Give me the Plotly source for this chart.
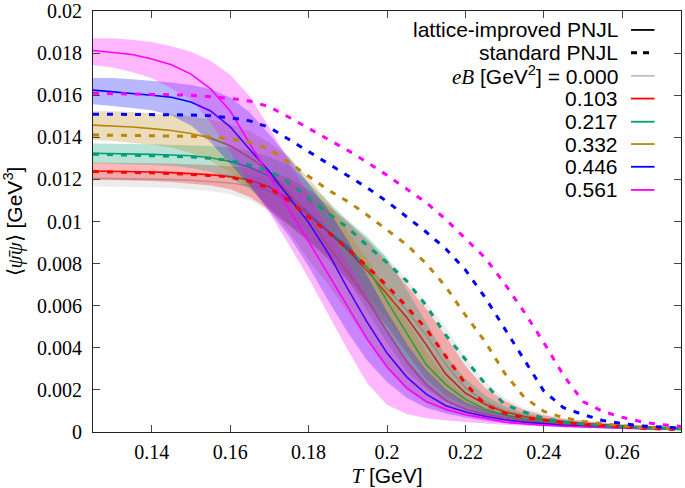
import plotly.graph_objects as go

# ---------------- data ----------------
T = [0.125, 0.130, 0.135, 0.140, 0.145, 0.150, 0.155, 0.160, 0.165, 0.170,
     0.175, 0.180, 0.185, 0.190, 0.195, 0.200, 0.205, 0.210, 0.215, 0.220,
     0.225, 0.230, 0.235, 0.240, 0.245, 0.250, 0.255, 0.260, 0.265, 0.270, 0.275]

eB_labels = ["0.000", "0.103", "0.217", "0.332", "0.446", "0.561"]

# lattice-improved PNJL (solid) with error band
lat_000 = [0.01205, 0.01204, 0.01203, 0.01201, 0.01199, 0.01196, 0.01191, 0.01183, 0.01170, 0.01145, 0.01095, 0.01030, 0.00955, 0.00875, 0.00785, 0.00685, 0.00580, 0.00460, 0.00320, 0.00210, 0.00145, 0.00102, 0.00079, 0.00062, 0.00051, 0.00042, 0.00036, 0.00030, 0.00025, 0.00022, 0.00019]
hi_000 = [0.01241, 0.01241, 0.01240, 0.01239, 0.01237, 0.01235, 0.01233, 0.01228, 0.01221, 0.01208, 0.01185, 0.01138, 0.01074, 0.00999, 0.00918, 0.00827, 0.00726, 0.00619, 0.00499, 0.00358, 0.00239, 0.00163, 0.00114, 0.00087, 0.00067, 0.00055, 0.00045, 0.00038, 0.00032, 0.00027, 0.00024]
lo_000 = [0.01168, 0.01167, 0.01165, 0.01162, 0.01159, 0.01153, 0.01145, 0.01130, 0.01101, 0.01050, 0.00985, 0.00911, 0.00831, 0.00742, 0.00644, 0.00539, 0.00419, 0.00289, 0.00191, 0.00132, 0.00094, 0.00074, 0.00058, 0.00048, 0.00040, 0.00034, 0.00028, 0.00023, 0.00020, 0.00018, 0.00018]

lat_103 = [0.01240, 0.01239, 0.01237, 0.01235, 0.01232, 0.01228, 0.01222, 0.01213, 0.01197, 0.01165, 0.01105, 0.01030, 0.00950, 0.00865, 0.00765, 0.00655, 0.00545, 0.00415, 0.00275, 0.00185, 0.00132, 0.00095, 0.00074, 0.00058, 0.00048, 0.00040, 0.00034, 0.00028, 0.00024, 0.00021, 0.00018]
hi_103 = [0.01280, 0.01280, 0.01279, 0.01277, 0.01275, 0.01272, 0.01268, 0.01262, 0.01254, 0.01238, 0.01208, 0.01153, 0.01078, 0.00997, 0.00910, 0.00810, 0.00699, 0.00585, 0.00455, 0.00313, 0.00209, 0.00148, 0.00105, 0.00080, 0.00063, 0.00052, 0.00043, 0.00036, 0.00030, 0.00026, 0.00023]
lo_103 = [0.01199, 0.01197, 0.01195, 0.01192, 0.01188, 0.01181, 0.01171, 0.01153, 0.01116, 0.01055, 0.00982, 0.00903, 0.00818, 0.00719, 0.00613, 0.00502, 0.00375, 0.00249, 0.00168, 0.00121, 0.00088, 0.00069, 0.00054, 0.00045, 0.00038, 0.00032, 0.00026, 0.00022, 0.00019, 0.00017, 0.00017]

lat_217 = [0.01324, 0.01323, 0.01321, 0.01319, 0.01316, 0.01312, 0.01303, 0.01285, 0.01258, 0.01215, 0.01125, 0.01040, 0.00955, 0.00880, 0.00780, 0.00622, 0.00470, 0.00320, 0.00225, 0.00155, 0.00108, 0.00082, 0.00065, 0.00052, 0.00042, 0.00035, 0.00029, 0.00025, 0.00021, 0.00018, 0.00016]
hi_217 = [0.01370, 0.01370, 0.01369, 0.01367, 0.01365, 0.01363, 0.01359, 0.01351, 0.01334, 0.01307, 0.01267, 0.01183, 0.01094, 0.01006, 0.00926, 0.00828, 0.00677, 0.00518, 0.00362, 0.00253, 0.00175, 0.00121, 0.00090, 0.00070, 0.00057, 0.00046, 0.00037, 0.00031, 0.00027, 0.00023, 0.00020]
lo_217 = [0.01277, 0.01275, 0.01272, 0.01269, 0.01264, 0.01254, 0.01235, 0.01205, 0.01155, 0.01069, 0.00987, 0.00907, 0.00830, 0.00722, 0.00571, 0.00425, 0.00290, 0.00204, 0.00141, 0.00099, 0.00076, 0.00060, 0.00048, 0.00040, 0.00033, 0.00027, 0.00023, 0.00019, 0.00017, 0.00015, 0.00015]

lat_332 = [0.01458, 0.01454, 0.01449, 0.01441, 0.01432, 0.01418, 0.01396, 0.01360, 0.01304, 0.01237, 0.01135, 0.01025, 0.00880, 0.00760, 0.00625, 0.00478, 0.00335, 0.00225, 0.00150, 0.00108, 0.00085, 0.00068, 0.00055, 0.00044, 0.00036, 0.00030, 0.00026, 0.00022, 0.00019, 0.00017, 0.00015]
hi_332 = [0.01524, 0.01524, 0.01520, 0.01515, 0.01508, 0.01499, 0.01485, 0.01463, 0.01429, 0.01374, 0.01306, 0.01207, 0.01094, 0.00950, 0.00819, 0.00681, 0.00530, 0.00380, 0.00258, 0.00172, 0.00121, 0.00094, 0.00074, 0.00061, 0.00048, 0.00040, 0.00032, 0.00028, 0.00024, 0.00021, 0.00018]
lo_332 = [0.01388, 0.01382, 0.01374, 0.01365, 0.01350, 0.01326, 0.01288, 0.01233, 0.01162, 0.01063, 0.00951, 0.00817, 0.00700, 0.00569, 0.00429, 0.00299, 0.00201, 0.00136, 0.00098, 0.00078, 0.00062, 0.00051, 0.00040, 0.00033, 0.00028, 0.00024, 0.00020, 0.00018, 0.00016, 0.00014, 0.00014]

lat_446 = [0.01624, 0.01617, 0.01609, 0.01600, 0.01590, 0.01568, 0.01525, 0.01450, 0.01342, 0.01237, 0.01115, 0.00995, 0.00850, 0.00680, 0.00520, 0.00375, 0.00262, 0.00180, 0.00125, 0.00095, 0.00075, 0.00058, 0.00047, 0.00038, 0.00032, 0.00027, 0.00023, 0.00020, 0.00018, 0.00016, 0.00014]
hi_446 = [0.01682, 0.01682, 0.01676, 0.01669, 0.01660, 0.01649, 0.01629, 0.01589, 0.01518, 0.01413, 0.01303, 0.01180, 0.01056, 0.00911, 0.00740, 0.00572, 0.00419, 0.00295, 0.00203, 0.00141, 0.00105, 0.00082, 0.00063, 0.00051, 0.00041, 0.00034, 0.00029, 0.00025, 0.00022, 0.00019, 0.00017]
lo_446 = [0.01557, 0.01549, 0.01540, 0.01529, 0.01503, 0.01456, 0.01377, 0.01273, 0.01169, 0.01052, 0.00931, 0.00787, 0.00625, 0.00473, 0.00339, 0.00237, 0.00163, 0.00115, 0.00088, 0.00069, 0.00054, 0.00043, 0.00036, 0.00030, 0.00025, 0.00021, 0.00019, 0.00017, 0.00015, 0.00013, 0.00013]

lat_561 = [0.01812, 0.01804, 0.01793, 0.01772, 0.01745, 0.01700, 0.01630, 0.01525, 0.01370, 0.01215, 0.01060, 0.00905, 0.00750, 0.00594, 0.00440, 0.00310, 0.00210, 0.00145, 0.00108, 0.00082, 0.00066, 0.00046, 0.00038, 0.00032, 0.00027, 0.00023, 0.00020, 0.00018, 0.00016, 0.00014, 0.00013]
hi_561 = [0.01870, 0.01870, 0.01863, 0.01853, 0.01833, 0.01806, 0.01764, 0.01697, 0.01595, 0.01446, 0.01286, 0.01126, 0.00966, 0.00806, 0.00645, 0.00486, 0.00347, 0.00237, 0.00163, 0.00119, 0.00090, 0.00071, 0.00052, 0.00041, 0.00034, 0.00029, 0.00025, 0.00021, 0.00019, 0.00017, 0.00015]
lo_561 = [0.01744, 0.01732, 0.01710, 0.01680, 0.01632, 0.01580, 0.01470, 0.01330, 0.01180, 0.01040, 0.00890, 0.00730, 0.00560, 0.00390, 0.00230, 0.00130, 0.00085, 0.00065, 0.00055, 0.00047, 0.00040, 0.00034, 0.00030, 0.00025, 0.00022, 0.00019, 0.00017, 0.00015, 0.00013, 0.00012, 0.00012]

# standard PNJL (dashed)
std_103 = [0.01237, 0.01236, 0.01234, 0.01231, 0.01228, 0.01224, 0.01219, 0.01211, 0.01190, 0.01158, 0.01098, 0.01020, 0.00950, 0.00870, 0.00785, 0.00695, 0.00596, 0.00490, 0.00360, 0.00230, 0.00130, 0.00090, 0.00068, 0.00055, 0.00045, 0.00036, 0.00029, 0.00023, 0.00018, 0.00014, 0.00011]
std_217 = [0.01320, 0.01318, 0.01316, 0.01314, 0.01311, 0.01307, 0.01300, 0.01290, 0.01268, 0.01240, 0.01185, 0.01110, 0.01040, 0.00970, 0.00885, 0.00805, 0.00718, 0.00600, 0.00460, 0.00345, 0.00230, 0.00130, 0.00095, 0.00065, 0.00048, 0.00037, 0.00030, 0.00025, 0.00020, 0.00017, 0.00014]
std_332 = [0.01411, 0.01410, 0.01409, 0.01408, 0.01407, 0.01405, 0.01401, 0.01393, 0.01375, 0.01345, 0.01280, 0.01215, 0.01150, 0.01095, 0.01030, 0.00960, 0.00890, 0.00800, 0.00690, 0.00555, 0.00430, 0.00280, 0.00165, 0.00098, 0.00068, 0.00050, 0.00038, 0.00029, 0.00023, 0.00019, 0.00016]
std_446 = [0.01510, 0.01510, 0.01509, 0.01508, 0.01507, 0.01506, 0.01502, 0.01493, 0.01478, 0.01447, 0.01390, 0.01330, 0.01275, 0.01220, 0.01160, 0.01095, 0.01023, 0.00950, 0.00870, 0.00770, 0.00640, 0.00490, 0.00340, 0.00195, 0.00115, 0.00083, 0.00055, 0.00040, 0.00029, 0.00023, 0.00019]
std_561 = [0.01609, 0.01608, 0.01606, 0.01604, 0.01602, 0.01600, 0.01594, 0.01585, 0.01572, 0.01545, 0.01495, 0.01442, 0.01392, 0.01338, 0.01280, 0.01220, 0.01155, 0.01090, 0.01010, 0.00920, 0.00828, 0.00705, 0.00570, 0.00425, 0.00270, 0.00145, 0.00098, 0.00070, 0.00048, 0.00035, 0.00026]

x_tickvals = [0.14, 0.16, 0.18, 0.20, 0.22, 0.24, 0.26]
x_ticktext = ["0.14", "0.16", "0.18", "0.2", "0.22", "0.24", "0.26"]
y_tickvals = [0, 0.002, 0.004, 0.006, 0.008, 0.01, 0.012, 0.014, 0.016, 0.018, 0.02]
y_ticktext = ["0", "0.002", "0.004", "0.006", "0.008", "0.01", "0.012", "0.014", "0.016", "0.018", "0.02"]

# ---------------- styles ----------------
line_colors = ["#bdbdbd", "#ff0000", "#009e73", "#b8860b", "#0000ff", "#ff00ff"]
band_colors = ["rgba(170,170,170,0.22)", "rgba(255,0,0,0.28)", "rgba(0,158,115,0.28)",
               "rgba(184,134,11,0.28)", "rgba(0,0,255,0.28)", "rgba(255,0,255,0.28)"]

lat = [lat_000, lat_103, lat_217, lat_332, lat_446, lat_561]
his = [hi_000, hi_103, hi_217, hi_332, hi_446, hi_561]
los = [lo_000, lo_103, lo_217, lo_332, lo_446, lo_561]
std = [None, std_103, std_217, std_332, std_446, std_561]

fig = go.Figure()

for k in range(6):
    fig.add_trace(go.Scatter(
        x=T + T[::-1], y=his[k] + los[k][::-1],
        fill="toself", fillcolor=band_colors[k], line=dict(width=0),
        mode="lines", hoverinfo="skip", showlegend=False))
    fig.add_trace(go.Scatter(
        x=T, y=lat[k], mode="lines",
        line=dict(color=line_colors[k], width=1.6),
        showlegend=False))

for k in range(1, 6):
    fig.add_trace(go.Scatter(
        x=T, y=std[k], mode="lines",
        line=dict(color=line_colors[k], width=3, dash="6px,8px"),
        showlegend=False))

# ---------------- legend (text right-aligned, sample on the right) ----------------
sans = "Liberation Sans, Arial, sans-serif"
serif = "Liberation Serif, Times New Roman, serif"
legend_texts = ["lattice-improved PNJL", "standard PNJL",
                '<span style="font-family:Liberation Serif"><i>eB</i></span> [GeV<sup>2</sup>] = ' + eB_labels[0]] + eB_labels[1:]
legend_colors = ["#000000", "#000000"] + line_colors
legend_dash = ["solid", "dash"] + ["solid"] * 6
row_y = [0.955, 0.901, 0.846, 0.792, 0.737, 0.684, 0.630, 0.575]
shapes = []
annotations = []
for i, txt in enumerate(legend_texts):
    annotations.append(dict(xref="paper", yref="paper", x=0.897, y=row_y[i],
                            text=txt, showarrow=False, xanchor="right", yanchor="middle",
                            font=dict(family=sans, size=21, color="black")))
    shapes.append(dict(type="line", xref="paper", yref="paper",
                       x0=0.915, x1=0.955, y0=row_y[i], y1=row_y[i],
                       line=dict(color=legend_colors[i],
                                 width=3 if legend_dash[i] == "dash" else 1.8,
                                 dash="6px,6px" if legend_dash[i] == "dash" else "solid")))

axis_common = dict(showline=True, linecolor="#222222", linewidth=1, mirror="ticks",
                   ticks="inside", ticklen=7, tickcolor="#444444", tickwidth=1,
                   showgrid=False, zeroline=False, automargin=False,
                   tickfont=dict(family=serif, size=20, color="black"))

fig.update_layout(
    width=685, height=488,
    margin=dict(l=93, r=4, t=11, b=56),
    paper_bgcolor="white", plot_bgcolor="white",
    showlegend=False,
    shapes=shapes, annotations=annotations,
    xaxis=dict(range=[0.125, 0.275], tickvals=x_tickvals, ticktext=x_ticktext,
               ticklabelstandoff=2,
               title=dict(text='<span style="font-family:Liberation Serif"><i>T</i></span> [GeV]',
                          font=dict(family=sans, size=21, color="black"), standoff=6),
               **axis_common),
    yaxis=dict(range=[0, 0.02], tickvals=y_tickvals, ticktext=y_ticktext,
               ticklabelstandoff=6,
               title=dict(text='<span style="font-family:Liberation Serif">⟨<i>ψ̄ψ</i>⟩</span> [GeV<sup>3</sup>]',
                          font=dict(family=sans, size=21, color="black"), standoff=8),
               **axis_common),
)

fig.write_html("out.html", config={"displayModeBar": False},
               post_script="document.body.style.margin='0';document.body.style.overflow='hidden';")
